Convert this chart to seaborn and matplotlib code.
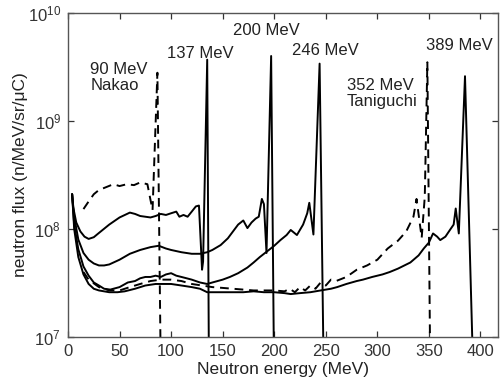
import numpy as np
import pandas as pd
import matplotlib
matplotlib.use("Agg")
import matplotlib.pyplot as plt
import matplotlib.ticker as mticker
import seaborn as sns

# Neutron spectra (energy in MeV, flux in n/MeV/sr/uC)
e_137 = [4, 5, 8, 12, 16, 20, 25, 30, 40, 50, 60, 65, 70, 75, 80, 85, 90, 95, 100,
         105, 108, 112, 116, 120, 124, 127, 130, 131, 135, 136.5]
f_137 = [2.1e8, 1.6e8, 1.15e8, 9.5e7, 8.5e7, 8.1e7, 8.4e7, 9.2e7, 1.1e8, 1.28e8, 1.42e8,
         1.38e8, 1.32e8, 1.3e8, 1.28e8, 1.32e8, 1.38e8, 1.35e8, 1.4e8, 1.45e8, 1.3e8,
         1.35e8, 1.3e8, 1.45e8, 1.62e8, 1.65e8, 4.2e7, 5e7, 3.7e9, 1e7]

e_200 = [4, 6, 10, 15, 20, 25, 30, 35, 40, 50, 60, 70, 80, 88, 95, 100, 110, 120, 128,
         135, 140, 148, 155, 160, 165, 170, 174, 178, 182, 185, 188, 190, 192.5, 197, 199.5]
f_200 = [2.1e8, 1.3e8, 8e7, 6e7, 5.2e7, 4.8e7, 4.6e7, 4.6e7, 4.7e7, 5.2e7, 5.9e7, 6.4e7,
         6.8e7, 7.0e7, 6.6e7, 6.4e7, 6.1e7, 5.9e7, 5.9e7, 6.1e7, 6.4e7, 7.1e7, 8.2e7,
         9.5e7, 1.1e8, 1.2e8, 1.02e8, 1.15e8, 1.25e8, 1.3e8, 1.9e8, 1.7e8, 6e7, 4e9, 1e7]

e_246 = [4, 6, 10, 15, 20, 25, 30, 35, 41, 50, 58, 65, 70, 75, 80, 85, 90, 95, 100, 105,
         110, 115, 120, 128, 135, 140, 150, 157, 165, 174, 180, 186, 192, 200, 206, 212,
         216, 222, 228, 232, 234, 238, 244, 247.5]
f_246 = [2.1e8, 1.1e8, 6.5e7, 4.5e7, 3.7e7, 3.2e7, 3.0e7, 2.8e7, 2.75e7, 2.9e7, 3.2e7,
         3.3e7, 3.5e7, 3.6e7, 3.6e7, 3.7e7, 3.6e7, 3.8e7, 3.9e7, 3.7e7, 3.6e7, 3.5e7,
         3.4e7, 3.2e7, 3.1e7, 3.2e7, 3.4e7, 3.6e7, 3.9e7, 4.4e7, 4.9e7, 5.5e7, 6.1e7, 7e7,
         7.9e7, 8.8e7, 9.8e7, 8.8e7, 1.1e8, 1.4e8, 1.75e8, 8.9e7, 3.4e9, 1e7]

e_389 = [4, 6, 10, 15, 20, 25, 30, 40, 48, 55, 65, 75, 85, 90, 100, 110, 120, 128, 135,
         140, 150, 160, 170, 180, 190, 200, 210, 216, 225, 235, 245, 255, 261, 270, 280,
         286, 295, 305, 312, 320, 332, 340, 345, 350, 354, 358, 361, 366, 371, 374, 376,
         379, 385, 392]
f_389 = [2.1e8, 1.0e8, 5.5e7, 3.8e7, 3.1e7, 2.8e7, 2.7e7, 2.6e7, 2.6e7, 2.65e7, 2.8e7,
         3.0e7, 3.1e7, 3.1e7, 3.1e7, 3.0e7, 2.9e7, 2.8e7, 2.6e7, 2.6e7, 2.6e7, 2.6e7,
         2.6e7, 2.65e7, 2.6e7, 2.6e7, 2.55e7, 2.5e7, 2.55e7, 2.6e7, 2.7e7, 2.8e7, 2.9e7,
         3.1e7, 3.3e7, 3.4e7, 3.6e7, 3.8e7, 4.0e7, 4.3e7, 4.9e7, 5.7e7, 6.6e7, 7.5e7,
         9.1e7, 8.5e7, 7.9e7, 8.5e7, 1e8, 1.1e8, 1.55e8, 9.1e7, 2.6e9, 1e7]

# dashed curves (other measurements)
e_nakao = [15, 20, 25, 30, 35, 44, 50, 57, 64, 70, 77, 80, 82, 86.7, 89.6]
f_nakao = [1.53e8, 1.8e8, 2.1e8, 2.3e8, 2.4e8, 2.6e8, 2.5e8, 2.6e8, 2.55e8, 2.7e8,
           2.6e8, 1.86e8, 1.5e8, 2.8e9, 1e7]

e_tani = [15, 20, 30, 40, 50, 60, 70, 80, 90, 100, 110, 120, 130, 140, 150, 160, 170,
          180, 190, 200, 210, 215, 220, 225, 230, 235, 240, 245, 250, 255, 260, 270, 280,
          290, 300, 310, 320, 328, 335, 338, 343, 346, 348.5, 351]
f_tani = [4.0e7, 3.4e7, 2.9e7, 2.7e7, 2.7e7, 2.9e7, 3.1e7, 3.3e7, 3.4e7, 3.4e7, 3.3e7,
          3.1e7, 3.0e7, 2.9e7, 2.85e7, 2.8e7, 2.75e7, 2.7e7, 2.7e7, 2.7e7, 2.65e7, 2.8e7,
          2.6e7, 2.9e7, 2.7e7, 3.0e7, 2.8e7, 3.2e7, 3.0e7, 3.4e7, 3.3e7, 3.6e7, 4.2e7,
          4.6e7, 5.2e7, 6.6e7, 7.8e7, 9.5e7, 1.3e8, 1.9e8, 8.3e7, 2e8, 3.5e9, 1e7]

solid_curves = [(e_137, f_137), (e_200, f_200), (e_246, f_246), (e_389, f_389)]
dashed_curves = [(e_nakao, f_nakao), (e_tani, f_tani)]

# labels: (text, energy, flux at top of text)
labels = [("90 MeV\nNakao", 21.8, 3.5e9),
          ("137 MeV", 96.4, 5.0e9),
          ("200 MeV", 159.6, 8.1e9),
          ("246 MeV", 217, 5.3e9),
          ("352 MeV\nTaniguchi", 270.5, 2.5e9),
          ("389 MeV", 347, 5.9e9)]

sns.set_style("ticks")
plt.rcParams['font.family'] = ['Liberation Sans', 'DejaVu Sans']
plt.rcParams['mathtext.fontset'] = 'custom'
plt.rcParams['mathtext.rm'] = 'Liberation Sans'

fig = plt.figure(figsize=(5, 3.83), dpi=100)
ax = fig.add_axes([0.136, 0.12, 0.86, 0.846])

for e, f in solid_curves:
    df = pd.DataFrame({'E': e, 'flux': f})
    sns.lineplot(data=df, x='E', y='flux', ax=ax, color='black', lw=1.4,
                 sort=False, estimator=None)
for e, f in dashed_curves:
    df = pd.DataFrame({'E': e, 'flux': f})
    sns.lineplot(data=df, x='E', y='flux', ax=ax, color='black', lw=1.4,
                 linestyle=(0, (4.5, 3)), sort=False, estimator=None)

ax.set_yscale('log')
ax.set_xlim(0, 417)
ax.set_ylim(1e7, 1e10)
ax.set_xticks(range(0, 401, 50))
ax.yaxis.set_major_locator(mticker.LogLocator(base=10, numticks=5))
ax.yaxis.set_minor_locator(mticker.NullLocator())
ax.tick_params(direction='in', top=True, right=True, length=4, width=0.9,
               labelsize=12, colors='#333333', pad=5)
for sp in ax.spines.values():
    sp.set_color('#555555')
    sp.set_linewidth(1.0)

ax.set_xlabel('Neutron energy (MeV)', fontsize=12.5, color='#222222', labelpad=2)
ax.set_ylabel('neutron flux (n/MeV/sr/\u03bcC)', fontsize=12.5, color='#222222', labelpad=0)

for txt, x, y in labels:
    ax.text(x, y, txt, fontsize=12, ha='left', va='top', color='#222222', linespacing=1.1)

fig.savefig('out.png', dpi=100)
